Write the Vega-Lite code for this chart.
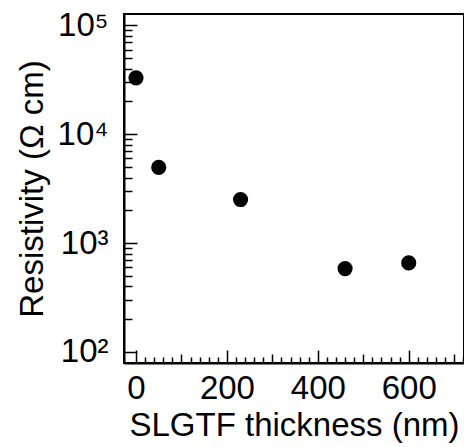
{
  "$schema": "https://vega.github.io/schema/vega-lite/v6.json",
  "width": 340,
  "height": 349,
  "autosize": {"type": "none"},
  "padding": {"left": 124, "top": 14, "right": 0, "bottom": 84},
  "config": {
    "font": "Liberation Sans",
    "view": {"stroke": "black", "strokeWidth": 2},
    "axis": {
      "grid": false,
      "domainColor": "black",
      "domainWidth": 2,
      "tickColor": "black",
      "tickWidth": 1.5,
      "labelColor": "black",
      "titleColor": "black",
      "titleFontWeight": "normal",
      "labelFont": "Liberation Sans",
      "titleFont": "Liberation Sans"
    }
  },
  "data": {
    "values": [
      {"thickness": 0, "resistivity": 33000},
      {"thickness": 50, "resistivity": 4950},
      {"thickness": 230, "resistivity": 2510},
      {"thickness": 460, "resistivity": 582},
      {"thickness": 600, "resistivity": 656}
    ]
  },
  "mark": {"type": "circle", "size": 230, "color": "black", "opacity": 1},
  "encoding": {
    "x": {
      "field": "thickness",
      "type": "quantitative",
      "scale": {"domain": [-26.4, 721.6], "nice": false, "zero": false},
      "axis": {
        "title": "SLGTF thickness (nm)",
        "titleFontSize": 33,
        "titlePadding": -3,
        "labelFontSize": 33,
        "labelPadding": 22,
        "values": [0,20,40,60,80,100,120,140,160,180,200,220,240,260,280,300,320,340,360,380,400,420,440,460,480,500,520,540,560,580,600,620,640,660,680,700,720],
        "labelExpr": "datum.value % 200 == 0 ? datum.label : ''",
        "labelOverlap": false,
        "tickSize": {"condition": [{"test": "datum.value % 200 == 0", "value": -13}, {"test": "datum.value % 100 == 0", "value": -9}], "value": -6}
      }
    },
    "y": {
      "field": "resistivity",
      "type": "quantitative",
      "scale": {"type": "log", "domain": [78.9, 127400], "nice": false},
      "axis": {
        "title": "Resistivity (Ω cm)",
        "titleFontSize": 33,
        "titlePadding": 8,
        "labelFontSize": 33,
        "labelPadding": 29,
        "values": [100,200,300,400,500,600,700,800,900,1000,2000,3000,4000,5000,6000,7000,8000,9000,10000,20000,30000,40000,50000,60000,70000,80000,90000,100000],
        "labelExpr": "datum.value == 100 ? '10²' : datum.value == 1000 ? '10³' : datum.value == 10000 ? '10⁴' : datum.value == 100000 ? '10⁵' : ''",
        "labelOverlap": false,
        "tickSize": {"condition": {"test": "indexof([100,1000,10000,100000], datum.value) >= 0", "value": -13}, "value": -8}
      }
    }
  }
}
